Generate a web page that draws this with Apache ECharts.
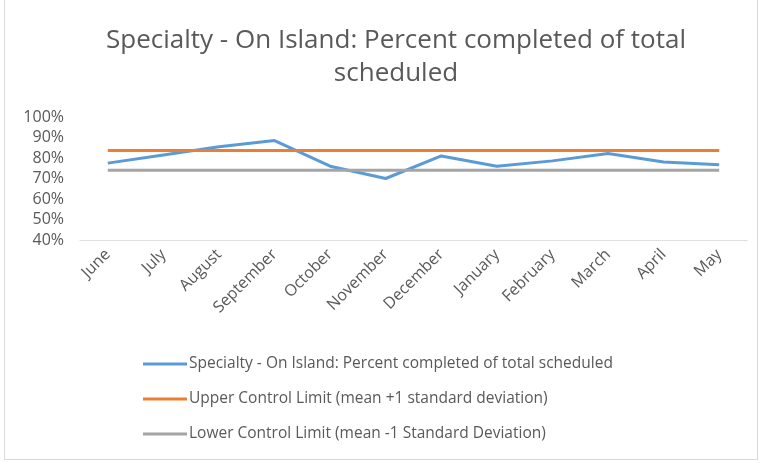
<!DOCTYPE html>
<html>
<head>
<meta charset="utf-8">
<script src="https://cdn.jsdelivr.net/npm/echarts@6/dist/echarts.min.js"></script>
<style>
  html, body { margin: 0; padding: 0; background: #fff; }
  #chart { position: absolute; left: 4px; top: 0; width: 754px; height: 460px; border: 1px solid #d9d9d9; border-top: none; box-sizing: border-box; }
</style>
</head>
<body>
<div id="chart"></div>
<script>
// month labels along the x axis
const months = ['June', 'July', 'August', 'September', 'October', 'November',
  'December', 'January', 'February', 'March', 'April', 'May'];

// percent completed
const percentCompleted = [77.5, 81.5, 85.5, 88.5, 76, 70, 81, 76, 78.6, 82.2, 78, 76.7];
const upperLimit = [83.6, 83.6, 83.6, 83.6, 83.6, 83.6, 83.6, 83.6, 83.6, 83.6, 83.6, 83.6];
const lowerLimit = [74, 74, 74, 74, 74, 74, 74, 74, 74, 74, 74, 74];

const seriesNames = [
  'Specialty - On Island: Percent completed of total scheduled',
  'Upper Control Limit (mean +1 standard deviation)',
  'Lower Control Limit (mean -1 Standard Deviation)'
];

const fontFam = '"Open Sans", "Liberation Sans", sans-serif';
const textGray = '#595959';

let myChart = echarts.init(document.getElementById('chart'));

function lineSeries(name, data, color) {
  return {
    name: name,
    type: 'line',
    data: data,
    symbol: 'none',
    lineStyle: { width: 3, color: color },
    itemStyle: { color: color }
  };
}

let option = {
  animation: false,
  title: {
    text: 'Specialty - On Island: Percent completed of total\nscheduled',
    left: 386,
    textAlign: 'center',
    top: 19,
    textStyle: { fontFamily: fontFam, fontSize: 26, fontWeight: 'normal', color: textGray, lineHeight: 33 }
  },
  grid: { left: 75, right: 10, top: 117, bottom: 219 },
  xAxis: {
    type: 'category',
    data: months,
    boundaryGap: true,
    axisLine: { lineStyle: { color: '#d9d9d9', type: 'dotted' } },
    axisTick: { show: false },
    axisLabel: { rotate: 45, color: textGray, fontFamily: fontFam, fontSize: 16, margin: 12 }
  },
  yAxis: {
    type: 'value',
    min: 40,
    max: 100,
    interval: 10,
    axisLine: { show: false },
    axisTick: { show: false },
    splitLine: { show: false },
    axisLabel: { formatter: '{value}%', color: textGray, fontFamily: fontFam, fontSize: 16, margin: 16 }
  },
  legend: {
    orient: 'vertical',
    left: 133,
    top: 351,
    itemGap: 19,
    itemWidth: 44,
    itemHeight: 18,
    icon: 'path://M0,8 L44,8 L44,11 L0,11 Z',
    textStyle: { fontFamily: fontFam, fontSize: 15.5, color: textGray, padding: [0, 0, 0, -3] },
    data: seriesNames
  },
  series: [
    lineSeries(seriesNames[0], percentCompleted, '#5B9BD5'),
    lineSeries(seriesNames[1], upperLimit, '#ED7D31'),
    lineSeries(seriesNames[2], lowerLimit, '#A5A5A5')
  ]
};

option && myChart.setOption(option);
</script>
</body>
</html>
